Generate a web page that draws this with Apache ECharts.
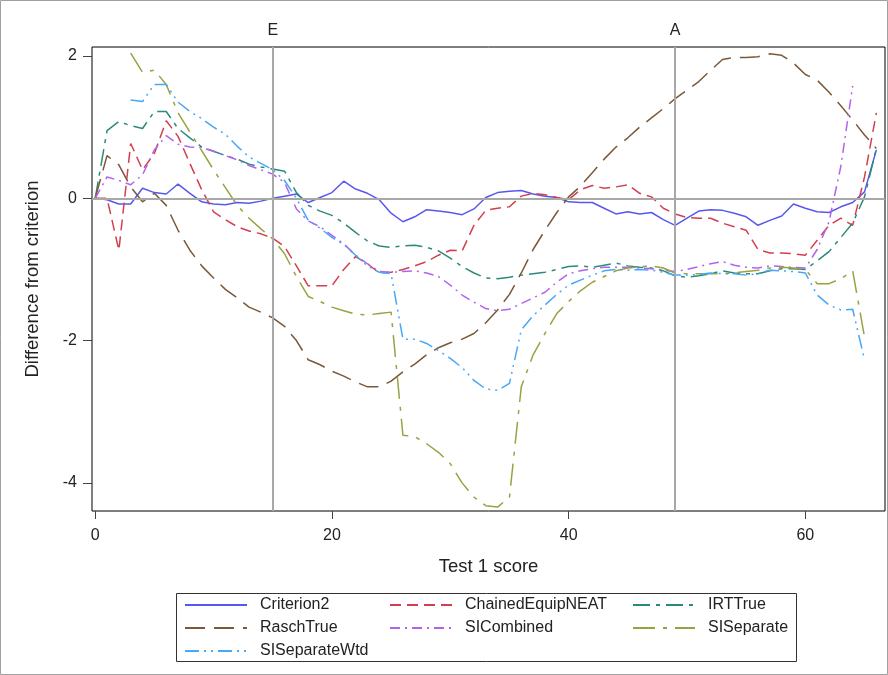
<!DOCTYPE html>
<html lang="en">
<head>
    <meta charset="UTF-8">
    <title>Difference from criterion</title>
    <script src="https://cdn.jsdelivr.net/npm/echarts@6/dist/echarts.min.js"></script>
    <style>
        *{
            padding: 0;
            margin: 0;
        }
        html ,body{
            width: 100%;
            height: 100%;
            background: #fff;
        }
        .echarts{
            width: 888px;
            height: 675px;
        }
    </style>
</head>
<body>
<div class="echarts"></div>
<script>
    // scores 0..66 on the x axis
    const scores = Array.from({length: 67}, (_, i) => i);

    const criterion2 = [0,-0.02,-0.08,-0.08,0.14,0.08,0.06,0.2,0.07,-0.05,-0.08,-0.09,-0.06,-0.07,-0.04,0,0.03,0.06,-0.06,0.01,
        0.08,0.24,0.13,0.07,-0.02,-0.21,-0.33,-0.26,-0.16,-0.18,-0.2,-0.23,-0.15,0.01,0.08,0.1,0.11,0.06,0.03,0.01,
        -0.05,-0.06,-0.06,-0.14,-0.22,-0.19,-0.22,-0.2,-0.3,-0.38,-0.28,-0.18,-0.16,-0.17,-0.21,-0.26,-0.38,-0.31,-0.25,-0.08,
        -0.14,-0.19,-0.2,-0.12,-0.06,0.09,0.68];
    const chainedEquipNEAT = [0,0,-0.73,0.77,0.4,0.63,1.09,0.87,0.49,0.12,-0.19,-0.3,-0.4,-0.46,-0.5,-0.56,-0.68,-0.95,-1.23,-1.23,
        -1.23,-1.0,-0.82,-0.92,-1.05,-1.04,-1.0,-0.95,-0.89,-0.8,-0.73,-0.74,-0.38,-0.17,-0.14,-0.12,0.03,0.07,0.05,0.01,
        -0.02,0.12,0.18,0.14,0.16,0.19,0.07,0.02,-0.14,-0.22,-0.27,-0.28,-0.28,-0.35,-0.4,-0.45,-0.72,-0.77,-0.77,-0.78,
        -0.8,-0.59,-0.38,-0.28,-0.38,0.3,1.2];
    const irtTrue = [0,0.95,1.08,1.02,0.98,1.22,1.22,0.98,0.85,0.72,0.66,0.6,0.55,0.48,0.44,0.41,0.38,0.08,-0.1,-0.18,
        -0.24,-0.35,-0.48,-0.6,-0.67,-0.69,-0.67,-0.66,-0.69,-0.74,-0.84,-0.96,-1.05,-1.12,-1.13,-1.11,-1.08,-1.06,-1.04,-1.0,
        -0.96,-0.95,-0.97,-0.94,-0.91,-0.95,-0.97,-0.98,-1.02,-1.09,-1.11,-1.09,-1.06,-1.02,-1.05,-1.06,-1.06,-1.02,-0.99,-0.99,
        -1.0,-0.88,-0.75,-0.55,-0.35,0.02,0.7];
    const raschTrue = [0,0.6,0.47,0.16,-0.05,0.07,-0.1,-0.45,-0.73,-0.95,-1.12,-1.28,-1.4,-1.53,-1.6,-1.68,-1.8,-2.0,-2.27,-2.34,
        -2.43,-2.5,-2.58,-2.65,-2.65,-2.57,-2.44,-2.33,-2.2,-2.1,-2.03,-1.98,-1.9,-1.75,-1.57,-1.35,-1.05,-0.72,-0.45,-0.2,
        0.02,0.17,0.36,0.55,0.72,0.85,1.0,1.13,1.26,1.4,1.52,1.64,1.8,1.95,1.98,1.98,1.99,2.03,2.01,1.9,
        1.74,1.66,1.49,1.3,1.1,0.89,0.7];
    const siCombined = [0,0.3,0.25,0.19,0.33,0.68,0.88,0.76,0.72,0.71,0.66,0.6,0.54,0.46,0.4,0.34,0.22,-0.15,-0.32,-0.4,
        -0.52,-0.64,-0.8,-0.92,-1.03,-1.04,-1.03,-1.02,-1.05,-1.1,-1.22,-1.36,-1.46,-1.55,-1.58,-1.56,-1.48,-1.4,-1.32,-1.18,
        -1.06,-1.02,-0.99,-0.97,-0.97,-0.97,-0.98,-0.99,-1.01,-1.03,-1.0,-0.96,-0.92,-0.89,-0.94,-0.97,-0.98,-0.95,-0.96,-0.97,
        -0.98,-0.72,-0.33,0.45,1.58,null,null];
    const siSeparate = [null,null,null,2.04,1.77,1.8,1.6,1.2,0.93,0.67,0.4,0.15,-0.1,-0.28,-0.43,-0.57,-0.78,-1.1,-1.38,-1.45,
        -1.53,-1.58,-1.63,-1.64,-1.62,-1.6,-3.33,-3.35,-3.45,-3.57,-3.73,-4.0,-4.2,-4.32,-4.34,-4.2,-2.65,-2.2,-1.9,-1.62,
        -1.45,-1.3,-1.18,-1.1,-1.02,-0.98,-0.96,-0.95,-0.98,-1.05,-1.06,-1.06,-1.06,-1.06,-1.05,-1.03,-1.01,-0.98,-0.97,-0.98,
        -1.0,-1.2,-1.2,-1.13,-1.02,-1.95,null];
    const siSeparateWtd = [null,null,null,1.38,1.36,1.6,1.6,1.35,1.22,1.12,1.0,0.9,0.73,0.58,0.49,0.4,0.25,0.0,-0.31,-0.42,
        -0.55,-0.65,-0.8,-0.95,-1.04,-1.06,-1.98,-1.98,-2.04,-2.14,-2.25,-2.38,-2.56,-2.68,-2.7,-2.6,-1.85,-1.65,-1.5,-1.35,
        -1.22,-1.15,-1.08,-1.02,-1.0,-1.01,-1.0,-1.01,-1.04,-1.08,-1.08,-1.07,-1.05,-1.06,-1.06,-1.08,-1.06,-1.01,-1.02,-1.03,
        -1.05,-1.36,-1.5,-1.57,-1.56,-2.27,null];

    const names = ['Criterion2','ChainedEquipNEAT','IRTTrue','RaschTrue','SICombined','SISeparate','SISeparateWtd'];
    const values = [criterion2, chainedEquipNEAT, irtTrue, raschTrue, siCombined, siSeparate, siSeparateWtd];
    const colors = ['#5858ee','#d2404e','#2c8a7a','#7b5838','#b163ef','#9aa141','#45a8f8'];
    const dashes = ['solid',[11,6],[17,6,4,6],[20,9],[10,5,2,5],[22,8,4,8],[14,5,2,5,2,5]];

    const xTicks = [0,20,40,60];
    const yTicks = [-4,-2,0,2];
    const refX = [15,49];
    const refLabels = ['E','A'];

    const font = 'Liberation Sans, Arial, sans-serif';

    window.onload=function () {
        let main=document.querySelector('.echarts');
        let myCharts=echarts.init(main);

        let refLabel=(t)=>({show:true, formatter:t, position:'end', distance:8, color:'#222', fontSize:16, fontFamily:font});

        let series=[];
        // reference lines first so they sit under the curves
        series.push({
            name:'ref',
            type:'line',
            data:[],
            z:1,
            silent:true,
            markLine:{
                silent:true,
                symbol:['none','none'],
                animation:false,
                lineStyle:{color:'#a8a8a8', width:2, type:'solid'},
                data:[
                    {yAxis:0, label:{show:false}},
                    {xAxis:refX[0], label:refLabel(refLabels[0])},
                    {xAxis:refX[1], label:refLabel(refLabels[1])}
                ]
            }
        });
        names.forEach((name,i)=>{
            series.push({
                name:name,
                type:'line',
                z:2,
                symbol:'none',
                animation:false,
                connectNulls:false,
                data:scores.map(s=>[s, values[i][s]]),
                lineStyle:{color:colors[i], width:1.5, type:dashes[i]},
                itemStyle:{color:colors[i]}
            });
        });

        let legendBase={
            orient:'vertical',
            top:597,
            padding:0,
            itemWidth:62,
            itemHeight:16,
            itemGap:7,
            selectedMode:false,
            itemStyle:{opacity:0},
            textStyle:{fontSize:16, fontFamily:font, color:'#222', lineHeight:16, padding:[0,0,0,8]}
        };

        let option={
            backgroundColor:'#fff',
            color:colors,
            grid:{
                left:92, right:3, top:47, bottom:164,
                show:true,
                borderColor:'#000',
                borderWidth:1,
                containLabel:false
            },
            legend:[
                Object.assign({left:184, data:['Criterion2','RaschTrue','SISeparateWtd']}, legendBase),
                Object.assign({left:389, data:['ChainedEquipNEAT','SICombined']}, legendBase),
                Object.assign({left:632, data:['IRTTrue','SISeparate']}, legendBase)
            ],
            xAxis:{
                type:'value',
                min:-0.27,
                max:66.73,
                name:'Test 1 score',
                nameLocation:'middle',
                nameGap:46,
                nameTextStyle:{fontSize:18.5, fontFamily:font, color:'#222'},
                axisLine:{show:false, onZero:false},
                splitLine:{show:false},
                axisTick:{show:true, length:8, customValues:xTicks, lineStyle:{color:'#444'}},
                axisLabel:{customValues:xTicks, margin:17, fontSize:16, fontFamily:font, color:'#222'}
            },
            yAxis:{
                type:'value',
                min:-4.395,
                max:2.126,
                name:'Difference from criterion',
                nameLocation:'middle',
                nameGap:50,
                nameTextStyle:{fontSize:18.5, fontFamily:font, color:'#222'},
                axisLine:{show:false, onZero:false},
                splitLine:{show:false},
                axisTick:{show:true, length:9, customValues:yTicks, lineStyle:{color:'#444'}},
                axisLabel:{customValues:yTicks, margin:15, fontSize:16, fontFamily:font, color:'#222'}
            },
            graphic:[
                {type:'rect', shape:{x:176.5, y:593.5, width:620, height:68}, style:{fill:'none', stroke:'#333', lineWidth:1}, silent:true},
                {type:'rect', shape:{x:0.5, y:0.5, width:887, height:674}, style:{fill:'none', stroke:'#a0a0a0', lineWidth:1}, silent:true}
            ],
            series
        };
        myCharts.setOption(option);
    }
</script>
</body>
</html>
